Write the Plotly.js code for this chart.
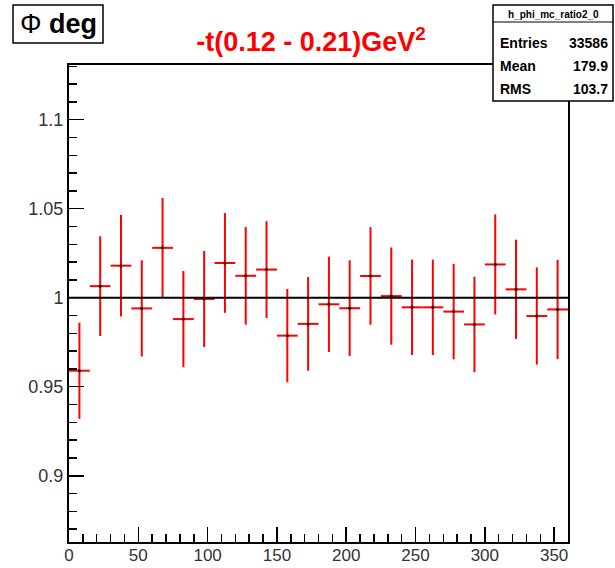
<!DOCTYPE html>
<html>
<head>
<meta charset="utf-8">
<script src="https://cdn.plot.ly/plotly-3.0.1.min.js"></script>
<style>html,body{margin:0;padding:0;background:#fff;}#chart{width:615px;height:568px;}</style>
</head>
<body>
<div id="chart"></div>
<script>
// Bin centres of the phi histogram (deg), 24 bins of 15 deg
const phiCenters = [7.5, 22.5, 37.5, 52.5, 67.5, 82.5, 97.5, 112.5, 127.5, 142.5, 157.5, 172.5,
                    187.5, 202.5, 217.5, 232.5, 247.5, 262.5, 277.5, 292.5, 307.5, 322.5, 337.5, 352.5];
const binHalfWidth = 7.5;
// Ratio values and their errors
const ratioValues = [0.959, 1.0065, 1.018, 0.994, 1.028, 0.988, 0.9993, 1.0195, 1.0123, 1.0158, 0.9787, 0.9853,
                     0.9963, 0.9941, 1.0122, 1.0009, 0.9946, 0.9946, 0.9922, 0.985, 1.0187, 1.0047, 0.9897, 0.9934];
const ratioErrors = [0.027, 0.028, 0.0285, 0.027, 0.028, 0.027, 0.027, 0.028, 0.0274, 0.0272, 0.0262, 0.0263,
                     0.0268, 0.0269, 0.0274, 0.0273, 0.0268, 0.0268, 0.0268, 0.0268, 0.0281, 0.0279, 0.0273, 0.0279];
const referenceLevel = 1;
const xTickVals = [0, 50, 100, 150, 200, 250, 300, 350];
const yTickVals = [0.9, 0.95, 1, 1.05, 1.1];
const yTickText = ['0.9', '0.95', '1', '1.05', '1.1'];
const statsName = 'h_phi_mc_ratio2_0';
const statsLabels = ['Entries', 'Mean', 'RMS'];
const statsValues = ['33586', '179.9', '103.7'];
const titleText = '-t(0.12 - 0.21)GeV<sup>2</sup>';
const axisLabelText = 'Φ <b>deg</b>';

const W = 615, H = 568;
const M = {l: 69, r: 47, t: 65, b: 26};
const pw = W - M.l - M.r, ph = H - M.t - M.b;
const PX = p => (p - M.l) / pw;
const PY = p => (H - M.b - p) / ph;

const FONT = 'Liberation Sans, Arial, Helvetica, sans-serif';

const trace = {
  type: 'scatter', mode: 'markers',
  x: phiCenters, y: ratioValues,
  marker: {color: 'black', size: 3},
  error_y: {type: 'data', array: ratioErrors, visible: true, color: '#ff0000', thickness: 2, width: 0},
  error_x: {type: 'constant', value: binHalfWidth, visible: true, color: '#ff0000', thickness: 2, width: 0},
  hoverinfo: 'skip', showlegend: false
};

const statsBox = {x0: 493, x1: 613, y0: 5, y1: 101, div: 22};
const statsRowsY = [43, 66, 89];

const shapes = [
  {type: 'line', xref: 'paper', yref: 'y', x0: 0, x1: 1, y0: referenceLevel, y1: referenceLevel,
   line: {color: 'black', width: 2}, layer: 'above'},
  {type: 'rect', xref: 'paper', yref: 'paper', x0: PX(13), x1: PX(103), y0: PY(43), y1: PY(5),
   line: {color: 'black', width: 1.5}, fillcolor: 'white', layer: 'above'},
  {type: 'rect', xref: 'paper', yref: 'paper', x0: PX(statsBox.x0), x1: PX(statsBox.x1), y0: PY(statsBox.y1), y1: PY(statsBox.y0),
   line: {color: 'black', width: 1.5}, fillcolor: 'white', layer: 'above'},
  {type: 'line', xref: 'paper', yref: 'paper', x0: PX(statsBox.x0), x1: PX(statsBox.x1), y0: PY(statsBox.div), y1: PY(statsBox.div),
   line: {color: 'black', width: 1}, layer: 'above'}
];

const annotations = [
  {xref: 'paper', yref: 'paper', x: PX(58), y: PY(24), text: axisLabelText, showarrow: false,
   xanchor: 'center', yanchor: 'middle', font: {family: FONT, size: 27, color: 'black'}},
  {xref: 'paper', yref: 'paper', x: PX((statsBox.x0 + statsBox.x1) / 2), y: PY(14), text: '<b>' + statsName + '</b>', showarrow: false,
   xanchor: 'center', yanchor: 'middle', font: {family: FONT, size: 10, color: 'black'}}
];
statsLabels.forEach((lab, i) => {
  annotations.push({xref: 'paper', yref: 'paper', x: PX(498), y: PY(statsRowsY[i]), text: '<b>' + lab + '</b>', showarrow: false,
    xanchor: 'left', yanchor: 'middle', font: {family: FONT, size: 14, color: 'black'}});
  annotations.push({xref: 'paper', yref: 'paper', x: PX(610), y: PY(statsRowsY[i]), text: '<b>' + statsValues[i] + '</b>', showarrow: false,
    xanchor: 'right', yanchor: 'middle', font: {family: FONT, size: 14, color: 'black'}});
});

const layout = {
  width: W, height: H,
  margin: M,
  paper_bgcolor: 'white', plot_bgcolor: 'white',
  title: {text: '<b>' + titleText + '</b>', font: {family: FONT, size: 27, color: '#ff0000'},
          xref: 'container', yref: 'container', x: 311 / W, y: 1 - 42 / H, xanchor: 'center', yanchor: 'middle'},
  xaxis: {
    range: [0, 360], showgrid: false, zeroline: false,
    showline: true, linecolor: 'black', linewidth: 2, mirror: true,
    tickmode: 'array', tickvals: xTickVals, ticktext: xTickVals.map(String),
    ticks: 'inside', ticklen: 15, tickwidth: 1.5, tickcolor: 'black',
    ticklabelstandoff: -3,
    minor: {dtick: 10, tick0: 0, ticks: 'inside', ticklen: 8, tickwidth: 1.5, tickcolor: 'black', showgrid: false},
    tickfont: {family: FONT, size: 17, color: '#333'}
  },
  yaxis: {
    range: [0.8628, 1.1307], showgrid: false, zeroline: false,
    showline: true, linecolor: 'black', linewidth: 2, mirror: true,
    tickmode: 'array', tickvals: yTickVals, ticktext: yTickText,
    ticks: 'inside', ticklen: 15, tickwidth: 1.5, tickcolor: 'black',
    minor: {dtick: 0.01, tick0: 0.9, ticks: 'inside', ticklen: 8, tickwidth: 1.5, tickcolor: 'black', showgrid: false},
    tickfont: {family: FONT, size: 18, color: '#333'}
  },
  shapes: shapes,
  annotations: annotations,
  showlegend: false
};

Plotly.newPlot('chart', [trace], layout, {displayModeBar: false, staticPlot: true});
</script>
</body>
</html>
